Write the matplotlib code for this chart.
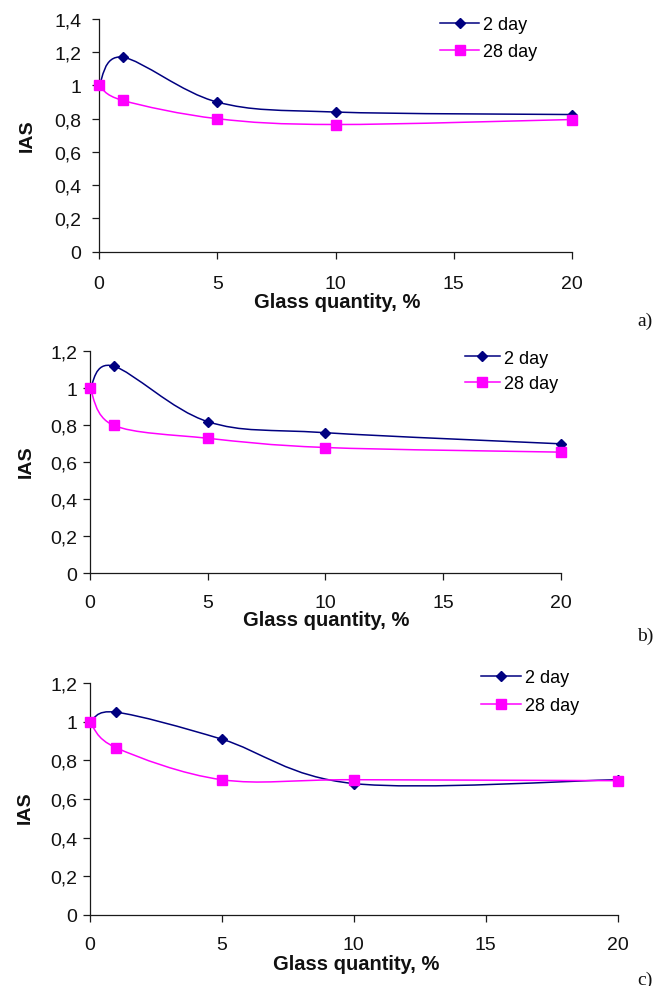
import matplotlib
matplotlib.use("Agg")
import matplotlib.pyplot as plt
from matplotlib.path import Path
from matplotlib.patches import PathPatch
from matplotlib.lines import Line2D

# ---------------- data ----------------
glass = [0, 1, 5, 10, 20]
series_labels = ["2 day", "28 day"]

a_2day = [1.0, 1.17, 0.90, 0.84, 0.825]
a_28day = [1.0, 0.91, 0.80, 0.765, 0.795]

b_2day = [1.0, 1.12, 0.82, 0.76, 0.70]
b_28day = [1.0, 0.80, 0.73, 0.68, 0.655]

c_2day = [1.0, 1.05, 0.91, 0.68, 0.70]
c_28day = [1.0, 0.865, 0.70, 0.70, 0.695]

xticks = [0, 5, 10, 15, 20]
yticks_a = [0, 0.2, 0.4, 0.6, 0.8, 1.0, 1.2, 1.4]
ylabels_a = ["0", "0,2", "0,4", "0,6", "0,8", "1", "1,2", "1,4"]
yticks_bc = [0, 0.2, 0.4, 0.6, 0.8, 1.0, 1.2]
ylabels_bc = ["0", "0,2", "0,4", "0,6", "0,8", "1", "1,2"]
panel_letters = ["a)", "b)", "c)"]
x_title = "Glass quantity, %"
y_title = "IAS"

# ---------------- style ----------------
W, H = 654, 987
SANS = "Liberation Sans"
SERIF = "Liberation Serif"
C2 = "#000080"
C28 = "#FF00FF"

fig = plt.figure(figsize=(W / 100, H / 100), dpi=100)


def smooth_path(x, y, k=1.0 / 6.0):
    """Excel-like smoothed line: cubic Bezier through the data points."""
    pts = list(zip(x, y))
    n = len(pts)
    verts = [pts[0]]
    codes = [Path.MOVETO]
    for i in range(n - 1):
        p0 = pts[i - 1] if i > 0 else pts[i]
        p1 = pts[i]
        p2 = pts[i + 1]
        p3 = pts[i + 2] if i + 2 < n else pts[i + 1]
        c1 = (p1[0] + (p2[0] - p0[0]) * k, p1[1] + (p2[1] - p0[1]) * k)
        c2 = (p2[0] - (p3[0] - p1[0]) * k, p2[1] - (p3[1] - p1[1]) * k)
        verts += [c1, c2, p2]
        codes += [Path.CURVE4] * 3
    return Path(verts, codes)


panels = [
    dict(box=(99, 572, 20, 252.6), ymax=1.4, yt=yticks_a, yl=ylabels_a,
         d2=a_2day, d28=a_28day, xpad=12.5, ypad=8.0,
         xl=(337.5, 303), yl_pos=(27.3, 136),
         leg=(440, 39), hl=2.17, ls=0.55, letter_y=321.7),
    dict(box=(90, 560.5, 352.3, 574.3), ymax=1.2, yt=yticks_bc, yl=ylabels_bc,
         d2=b_2day, d28=b_28day, xpad=10.4, ypad=4.6,
         xl=(326.4, 620.7), yl_pos=(26.7, 461.7),
         leg=(464.5, 371.8), hl=1.95, ls=0.46, letter_y=636.7),
    dict(box=(90, 617.7, 684.3, 915.7), ymax=1.2, yt=yticks_bc, yl=ylabels_bc,
         d2=c_2day, d28=c_28day, xpad=10.5, ypad=4.6,
         xl=(355.7, 965), yl_pos=(25, 808),
         leg=(481, 692.8), hl=2.2, ls=0.6, letter_y=980),
]

for p, letter in zip(panels, panel_letters):
    l, r, t, b = p["box"]
    ax = fig.add_axes([l / W, 1 - b / H, (r - l) / W, (b - t) / H])
    ax.set_xlim(0, 20)
    ax.set_ylim(0, p["ymax"])
    for s in ("top", "right"):
        ax.spines[s].set_visible(False)
    for s in ("left", "bottom"):
        ax.spines[s].set_color("#1a1a1a")
        ax.spines[s].set_linewidth(0.9)
    ax.set_xticks(xticks)
    ax.set_xticklabels([str(v) for v in xticks])
    ax.set_yticks(p["yt"])
    ax.set_yticklabels(p["yl"])
    ax.tick_params(axis="both", direction="out", length=4.7, width=0.9,
                   color="#1a1a1a", labelsize=14, labelcolor="#111111")
    ax.tick_params(axis="x", pad=p["xpad"])
    ax.tick_params(axis="y", pad=p["ypad"])
    for lab in ax.get_xticklabels() + ax.get_yticklabels():
        lab.set_family(SANS)

    for data, col, mk, ms in ((p["d2"], C2, "D", 5.5), (p["d28"], C28, "s", 6.5)):
        patch = PathPatch(smooth_path(glass, data), facecolor="none",
                          edgecolor=col, lw=1.1, clip_on=False, zorder=3)
        ax.add_patch(patch)
        ax.plot(glass, data, ls="none", marker=mk, ms=ms, color=col,
                mec=col, clip_on=False, zorder=4)

    ax.set_xlabel(x_title, family=SANS, fontweight="bold", fontsize=14.5,
                  color="#111111")
    ax.xaxis.set_label_coords(p["xl"][0] / W, 1 - p["xl"][1] / H,
                              transform=fig.transFigure)
    ax.xaxis.label.set_va("center")
    ax.xaxis.label.set_ha("center")
    ax.set_ylabel(y_title, family=SANS, fontweight="bold", fontsize=14,
                  color="#111111")
    ax.yaxis.set_label_coords(p["yl_pos"][0] / W, 1 - p["yl_pos"][1] / H,
                              transform=fig.transFigure)
    ax.yaxis.label.set_va("center")
    ax.yaxis.label.set_ha("center")

    handles = [
        Line2D([], [], color=C2, lw=1.1, marker="D", ms=5.5),
        Line2D([], [], color=C28, lw=1.1, marker="s", ms=6.5),
    ]
    ax.legend(handles, series_labels, loc="center left",
              bbox_to_anchor=(p["leg"][0] / W, 1 - p["leg"][1] / H),
              bbox_transform=fig.transFigure, frameon=False, borderpad=0,
              borderaxespad=0, handlelength=p["hl"], handletextpad=0.22,
              labelspacing=p["ls"], numpoints=1,
              prop=dict(family=SANS, size=13))

    fig.text(653 / W, 1 - p["letter_y"] / H, letter, ha="right", va="center",
             family=SERIF, fontsize=14, color="#111111")

fig.savefig("out.png", dpi=100)
